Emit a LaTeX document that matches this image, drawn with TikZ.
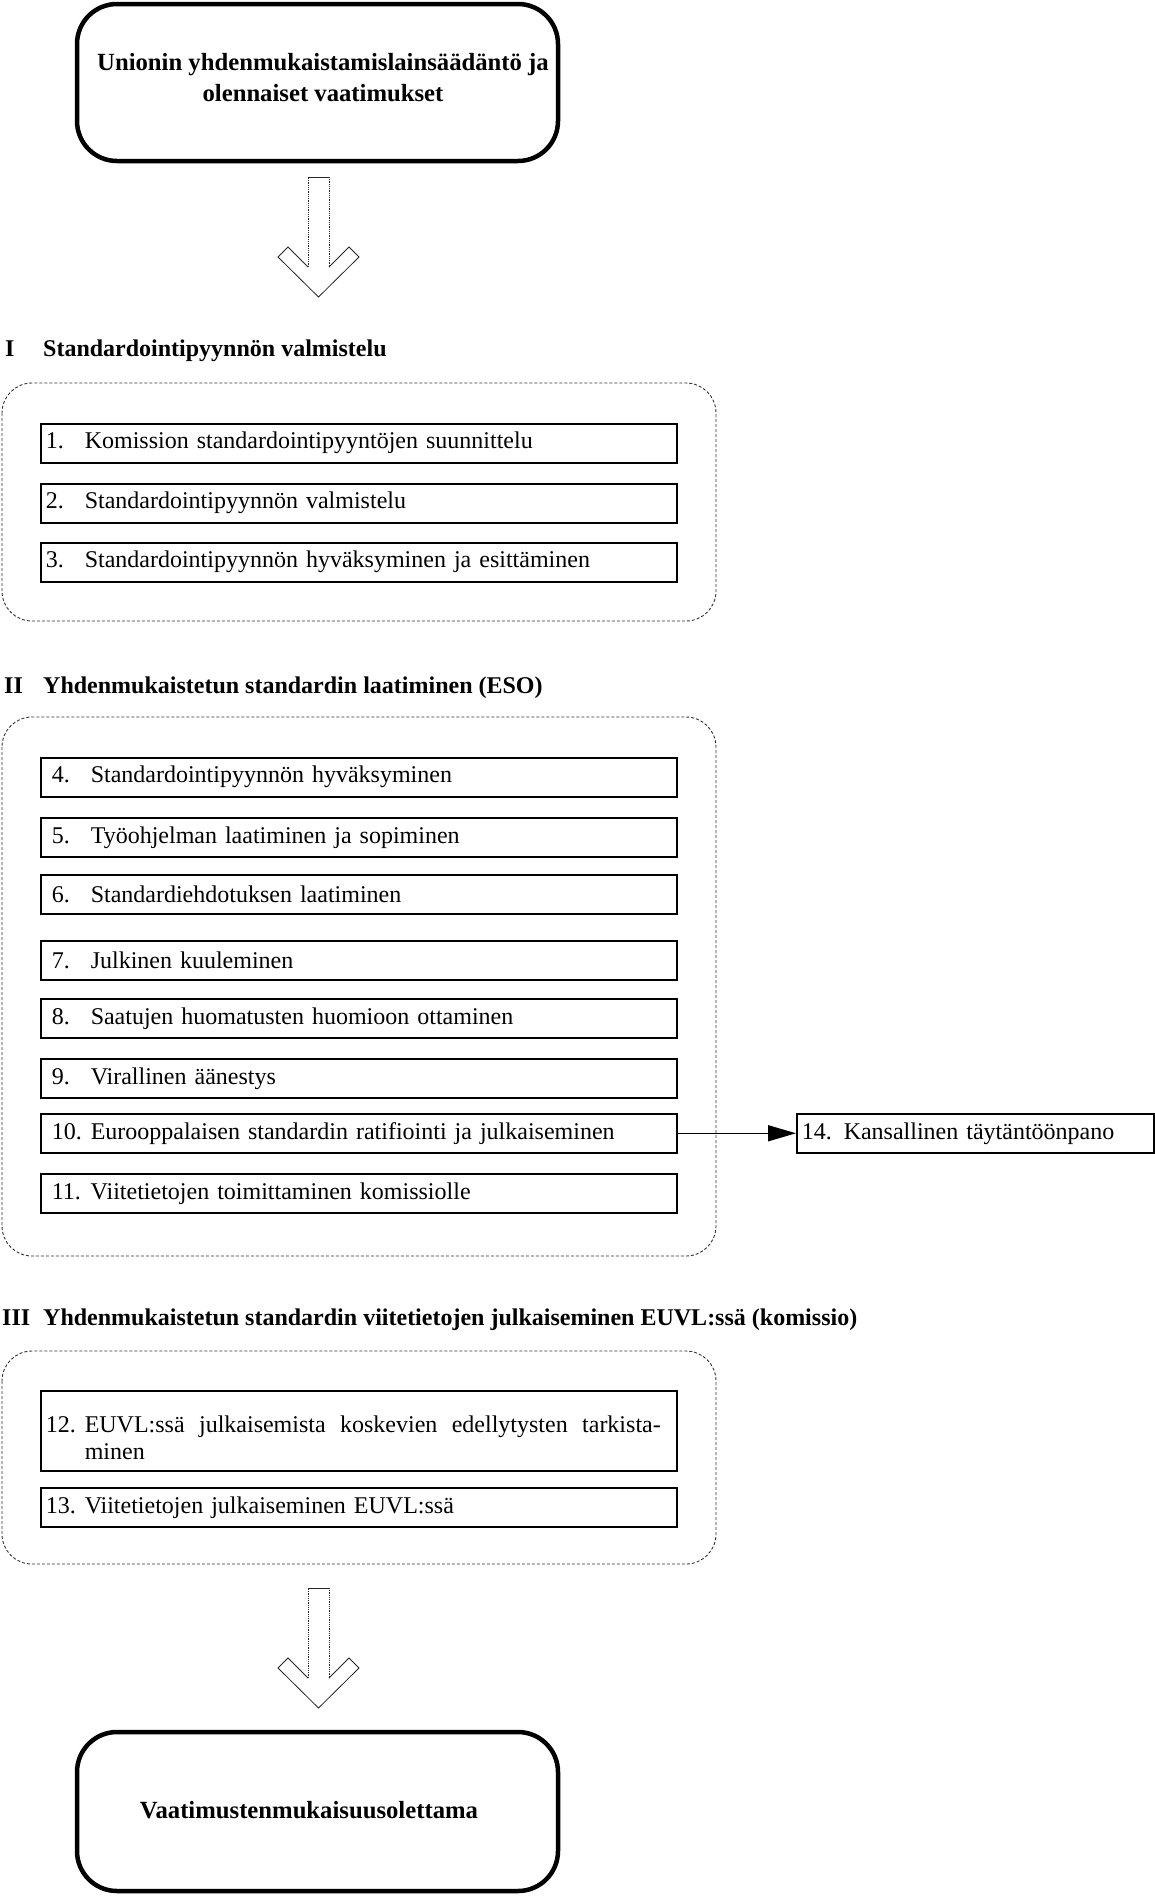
\documentclass[tikz,border=0pt]{standalone}
\usepackage{fontspec}
\setmainfont{Liberation Serif}
\usetikzlibrary{arrows.meta}

\newcommand{\bigfont}{\fontsize{24}{29}\selectfont}
\newcommand{\titlefont}{\fontsize{24.7}{31}\selectfont}
\newcommand{\stepfont}{\fontsize{24}{27}\selectfont}
\newcommand{\stepno}[1]{\makebox[39pt][l]{#1}}

\begin{document}
\begin{tikzpicture}[x=1pt,y=-1pt,
    endbox/.style={draw,line width=4.5pt,rounded corners=40pt,minimum width=481pt},
    endtxt/.style={align=center,inner sep=0pt,font=\titlefont\bfseries},
    headtxt/.style={anchor=base west,inner sep=0pt,font=\bigfont\bfseries},
    grouppath/.style={draw=black!80,line width=0.9pt,dash pattern=on 3pt off 2pt,rounded corners=30pt},
    stepbox/.style={draw,line width=1.5pt,anchor=north west,minimum width=636pt,minimum height=39pt,
                    text width=626pt,inner xsep=5pt,inner ysep=0pt,align=left,font=\stepfont},
    stepboxw/.style={stepbox,text width=614pt,inner xsep=11pt},
    flow/.style={line width=1.5pt,-{Triangle[length=28pt,width=16pt]}},
    hollow/.style={line width=0.8pt,black!85}]
  \useasboundingbox (0,0) rectangle (1155,1899);

  % top and bottom boxes
  \node[endbox,minimum height=157pt] (law) at (317.5,82.5) {};
  \node[endtxt] (lawtxt) at (323,77.5)
    {Unionin yhdenmukaistamislainsäädäntö ja\\olennaiset vaatimukset};
  \node[endbox,minimum height=159pt] (presum) at (317.5,1811.5) {};
  \node[endtxt] (presumtxt) at (309,1810.5) {Vaatimustenmukaisuusolettama};

  % hollow arrows
  \foreach \dy in {0,1411} {
    \begin{scope}[shift={(0,\dy)}]
      \draw[hollow,densely dotted] (308,267) -- (308,177);
      \draw[hollow] (308,177) -- (329,177);
      \draw[hollow,densely dotted] (329,177) -- (329,267);
      \draw[hollow] (308,267) -- (288,247) -- (278,257) -- (318.5,297)
                    -- (359,257) -- (349,247) -- (329,267);
    \end{scope}
  }

  % phase I
  \node[headtxt] (numI) at (5,356) {I};
  \node[headtxt] (headI) at (43,356) {Standardointipyynnön valmistelu};
  \draw[grouppath] (2,383) rectangle (716,621);
  \node[stepbox] (s1) at (40,423) {\stepno{1.}Komission standardointipyyntöjen suunnittelu};
  \node[stepbox] (s2) at (40,483) {\stepno{2.}Standardointipyynnön valmistelu};
  \node[stepbox] (s3) at (40,542) {\stepno{3.}Standardointipyynnön hyväksyminen ja esittäminen};

  % phase II
  \node[headtxt] (numII) at (4,693) {II};
  \node[headtxt] (headII) at (43,693) {Yhdenmukaistetun standardin laatiminen (ESO)};
  \draw[grouppath] (2,717) rectangle (716,1256);
  \node[stepboxw] (s4) at (40,757) {\stepno{4.}Standardointipyynnön hyväksyminen};
  \node[stepboxw] (s5) at (40,817) {\stepno{5.}Työohjelman laatiminen ja sopiminen};
  \node[stepboxw] (s6) at (40,874) {\stepno{6.}Standardiehdotuksen laatiminen};
  \node[stepboxw] (s7) at (40,940) {\stepno{7.}Julkinen kuuleminen};
  \node[stepboxw] (s8) at (40,998) {\stepno{8.}Saatujen huomatusten huomioon ottaminen};
  \node[stepboxw] (s9) at (40,1058) {\stepno{9.}Virallinen äänestys};
  \node[stepboxw] (s10) at (40,1113) {\stepno{10.}Eurooppalaisen standardin ratifiointi ja julkaiseminen};
  \node[stepboxw] (s11) at (40,1173) {\stepno{11.}Viitetietojen toimittaminen komissiolle};

  \node[stepbox,minimum width=357pt,text width=347pt] (s14) at (796,1113)
    {14. Kansallinen täytäntöönpano};
  \draw[flow] (s10.east) -- (s14.west);

  % phase III
  \node[headtxt] (numIII) at (2,1325) {III};
  \node[headtxt] (headIII) at (43,1325)
    {Yhdenmukaistetun standardin viitetietojen julkaiseminen EUVL:ssä (komissio)};
  \draw[grouppath] (2,1351) rectangle (716,1564);
  \node[stepbox,minimum height=80pt] (s12) at (40,1390)
    {\stepno{12.}\parbox[t]{577pt}{\rule{0pt}{31pt}\makebox[576pt][s]{EUVL:ssä\hfill julkaisemista\hfill koskevien\hfill edellytysten\hfill tarkista-}\\minen}};
  \node[stepbox] (s13) at (40,1487) {\stepno{13.}Viitetietojen julkaiseminen EUVL:ssä};
\end{tikzpicture}
\end{document}
